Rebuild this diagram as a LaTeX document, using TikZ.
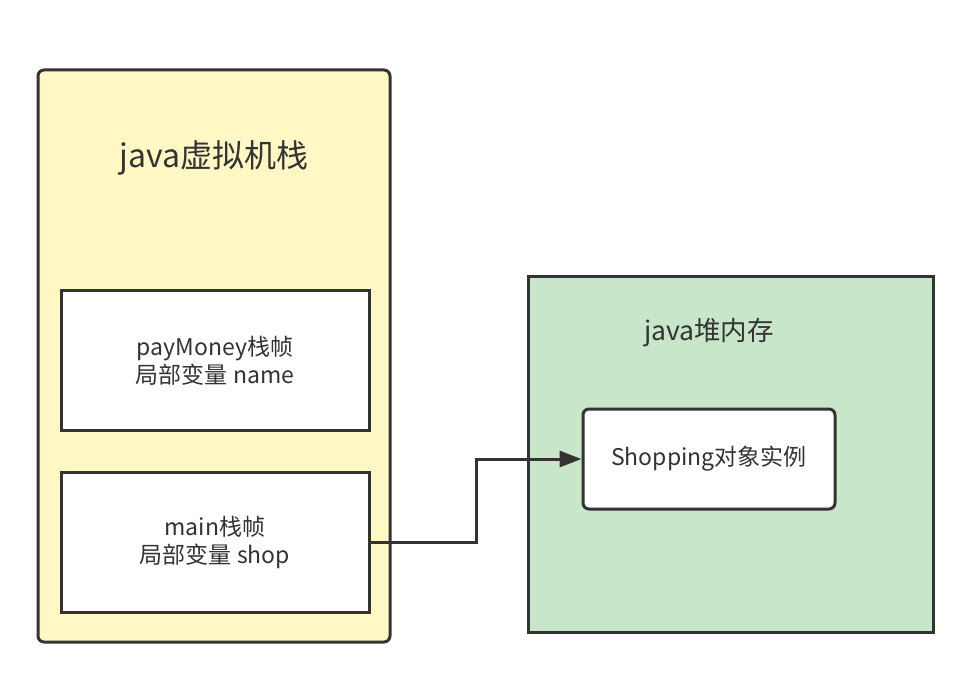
\documentclass[tikz,border=0pt]{standalone}
\usepackage{fontspec}
\setmainfont{Noto Sans CJK SC}
\usetikzlibrary{positioning, arrows.meta}
\definecolor{darkline}{HTML}{333333}
\definecolor{stackyellow}{HTML}{FFF8C5}
\definecolor{heapgreen}{HTML}{C8E6C9}

\begin{document}
\begin{tikzpicture}
    [
        x=1pt, y=-1pt, line width=3pt, text=darkline,
        stack_box/.style={rectangle, rounded corners=6pt, draw=darkline, fill=stackyellow, minimum width=352pt, minimum height=572pt, inner sep=0pt},
        heap_box/.style={rectangle, draw=darkline, fill=heapgreen, minimum width=405pt, minimum height=356pt, inner sep=0pt},
        frame_box/.style={rectangle, draw=darkline, fill=white, minimum width=308pt, minimum height=140pt, align=center, font=\fontsize{23}{28}\selectfont},
        object_box/.style={rectangle, rounded corners=6pt, draw=darkline, fill=white, minimum width=252pt, minimum height=100pt, font=\fontsize{23}{27}\selectfont},
    ]
        \useasboundingbox (0,0) rectangle (965,679);
        \node[stack_box] (stack) at (214,356) {};
        \node[font=\fontsize{32}{38}\selectfont] (stacktitle) at (214,158) {java虚拟机栈};
        \node[frame_box] (payframe) at (215,360.5) {payMoney栈帧\\局部变量 name};
        \node[frame_box] (mainframe) at (215,542) {main栈帧\\局部变量 shop};
        \node[heap_box] (heap) at (730.5,454) {};
        \node[font=\fontsize{26.5}{32}\selectfont] (heaptitle) at (709,333) {java堆内存};
        \node[object_box] (shopobj) at (709,459) {Shopping对象实例};
        \coordinate (bend) at (476,542);
        \draw[-{Triangle[length=22pt, width=16pt]}, darkline] (mainframe.east) -- (bend) |- (shopobj.west);
\end{tikzpicture}
\end{document}
